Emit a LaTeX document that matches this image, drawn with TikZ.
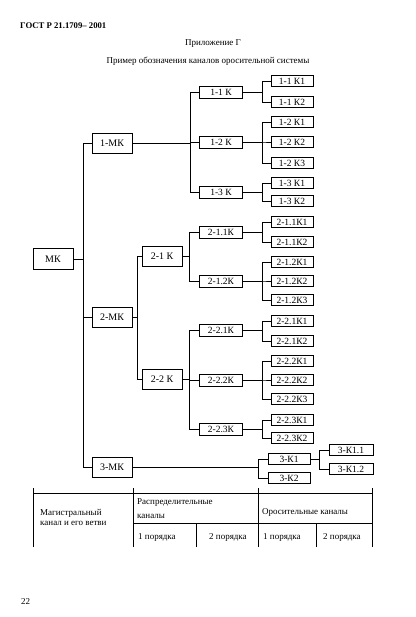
\documentclass[tikz,border=0pt]{standalone}
\usepackage{fontspec}
\setmainfont{Liberation Serif}
\begin{document}
\begin{tikzpicture}[x=1pt,y=-1pt,
  lineC/.style={line width=0.75pt},
  boxA/.style={draw,line width=0.85pt,minimum width=40pt,minimum height=20pt,inner sep=0pt,font=\fontsize{10}{10}\selectfont},
  boxB/.style={draw,line width=0.85pt,minimum width=43pt,minimum height=12pt,inner sep=0pt,font=\fontsize{9.5}{10}\selectfont},
  boxC/.style={draw,line width=0.85pt,minimum width=42pt,minimum height=11pt,inner sep=0pt,font=\fontsize{9.5}{10}\selectfont},
  txt/.style={inner sep=0pt,anchor=west,font=\fontsize{9}{10}\selectfont}]
\useasboundingbox (0,0) rectangle (415,617);
% header
\node[inner sep=0pt,anchor=west,font=\bfseries\fontsize{8.7}{9}\selectfont] (hdr) at (20,26) {ГОСТ Р 21.1709– 2001};
\node[inner sep=0pt,font=\fontsize{9}{9}\selectfont] (app) at (213,44) {Приложение Г};
\node[inner sep=0pt,font=\fontsize{9}{10}\selectfont] (ttl) at (208,61) {Пример обозначения каналов оросительной системы};
% level A
\node[boxA,minimum width=40pt,minimum height=21pt] (mk) at (53,259) {МК};
\node[boxA] (m1) at (112,143) {1-МК};
\node[boxA] (m2) at (112,317) {2-МК};
\node[boxA] (m3) at (112,467) {3-МК};
\node[boxA] (k21) at (162,256) {2-1 К};
\node[boxA] (k22) at (162,379) {2-2 К};
% level B
\node[boxB] (k11) at (221,92) {1-1 К};
\node[boxB] (k12) at (221,142) {1-2 К};
\node[boxB] (k13) at (221,192) {1-3 К};
\node[boxB] (k211) at (221,232) {2-1.1К};
\node[boxB] (k212) at (221,281) {2-1.2К};
\node[boxB] (k221) at (221,330) {2-2.1К};
\node[boxB] (k222) at (221,380) {2-2.2К};
\node[boxB] (k223) at (221,429) {2-2.3К};
% level C
\node[boxC] (c111) at (292,81) {1-1 К1};
\node[boxC] (c112) at (292,102) {1-1 К2};
\node[boxC] (c121) at (292,122) {1-2 К1};
\node[boxC] (c122) at (292,142) {1-2 К2};
\node[boxC] (c123) at (292,163) {1-2 К3};
\node[boxC] (c131) at (292,183) {1-3 К1};
\node[boxC] (c132) at (292,201) {1-3 К2};
\node[boxC] (d111) at (292,222) {2-1.1К1};
\node[boxC] (d112) at (292,242) {2-1.1К2};
\node[boxC] (d121) at (292,262) {2-1.2К1};
\node[boxC] (d122) at (292,281) {2-1.2К2};
\node[boxC] (d123) at (292,300) {2-1.2К3};
\node[boxC] (e211) at (292,321) {2-2.1К1};
\node[boxC] (e212) at (292,341) {2-2.1К2};
\node[boxC] (e221) at (292,361) {2-2.2К1};
\node[boxC] (e222) at (292,380) {2-2.2К2};
\node[boxC] (e223) at (292,399) {2-2.2К3};
\node[boxC] (e231) at (292,420) {2-2.3К1};
\node[boxC] (e232) at (292,438) {2-2.3К2};
\node[boxC] (f1) at (289,459) {3-К1};
\node[boxC] (f2) at (289,478) {3-К2};
\node[boxC,minimum width=44pt] (g1) at (351,450) {3-К1.1};
\node[boxC,minimum width=44pt] (g2) at (351,469) {3-К1.2};
% bus x-positions
\coordinate (jt) at (83,0);
\coordinate (ja) at (190,0);
\coordinate (jb) at (137,0);
\coordinate (jc) at (189,0);
\coordinate (jd) at (262,0);
\coordinate (je) at (258,0);
\coordinate (jf) at (319,0);
% trunk
\draw[lineC] (mk.east) -- (mk.east -| jt);
\draw[lineC] (m1.west) -- (m1.west -| jt) -- (m3.west -| jt) -- (m3.west);
\draw[lineC] (m2.west) -- (m2.west -| jt);
% 1-MK
\foreach \c in {k11,k12,k13} \draw[lineC] (m1.east) -- (m1.east -| ja) |- (\c.west);
% 2-MK
\foreach \c in {k21,k22} \draw[lineC] (m2.east) -- (m2.east -| jb) |- (\c.west);
\foreach \c in {k211,k212} \draw[lineC] (k21.east) -- (k21.east -| jc) |- (\c.west);
\foreach \c in {k221,k222,k223} \draw[lineC] (k22.east) -- (k22.east -| jc) |- (\c.west);
% level C
\foreach \c in {c111,c112} \draw[lineC] (k11.east) -- (k11.east -| jd) |- (\c.west);
\foreach \c in {c121,c122,c123} \draw[lineC] (k12.east) -- (k12.east -| jd) |- (\c.west);
\foreach \c in {c131,c132} \draw[lineC] (k13.east) -- (k13.east -| jd) |- (\c.west);
\foreach \c in {d111,d112} \draw[lineC] (k211.east) -- (k211.east -| jd) |- (\c.west);
\foreach \c in {d121,d122,d123} \draw[lineC] (k212.east) -- (k212.east -| jd) |- (\c.west);
\foreach \c in {e211,e212} \draw[lineC] (k221.east) -- (k221.east -| jd) |- (\c.west);
\foreach \c in {e221,e222,e223} \draw[lineC] (k222.east) -- (k222.east -| jd) |- (\c.west);
\foreach \c in {e231,e232} \draw[lineC] (k223.east) -- (k223.east -| jd) |- (\c.west);
% 3-MK
\foreach \c in {f1,f2} \draw[lineC] (m3.east) -- (m3.east -| je) |- (\c.west);
\foreach \c in {g1,g2} \draw[lineC] (f1.east) -- (f1.east -| jf) |- (\c.west);
% table
\coordinate (tl) at (33,493);
\coordinate (tr) at (372,493);
\draw[lineC] (tl) -- (tr);
\draw[lineC] (133,523) -- (372,523);
\foreach \xx in {33,133,258,372} \draw[lineC] (\xx,488) -- (\xx,547);
\foreach \xx in {196,316} \draw[lineC] (\xx,523) -- (\xx,547);
\node[txt] (t1) at (40,513) {Магистральный};
\node[txt] (t2) at (40,523) {канал и его ветви};
\node[txt] (t3) at (137,503) {Распределительные};
\node[txt] (t4) at (137,516) {каналы};
\node[txt] (t5) at (262,512) {Оросительные каналы};
\node[txt] (t6) at (138,537) {1 порядка};
\node[txt] (t7) at (209,537) {2 порядка};
\node[txt] (t8) at (263,537) {1 порядка};
\node[txt] (t9) at (323,537) {2 порядка};
\node[txt] (pg) at (21,602) {22};
\end{tikzpicture}
\end{document}
